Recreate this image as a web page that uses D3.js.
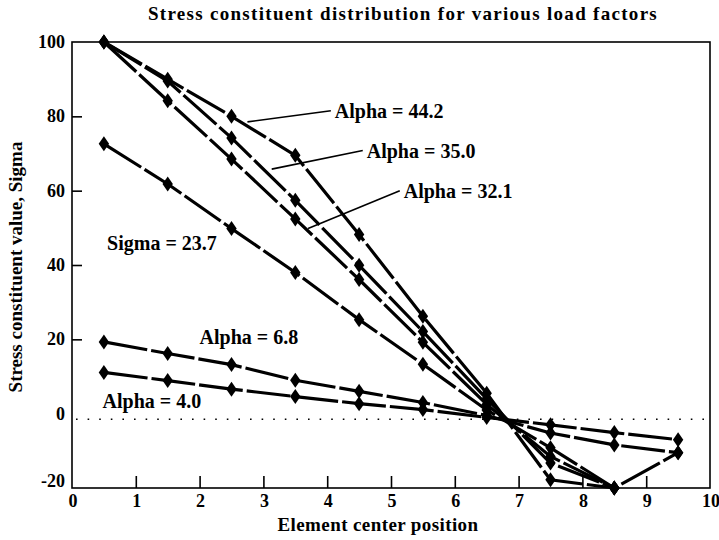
<!DOCTYPE html>
<html>
<head>
<meta charset="utf-8">
<script src="https://cdn.jsdelivr.net/npm/d3@7"></script>
<style>
  body { margin: 0; background: #fff; }
  text { font-family: "Liberation Serif", "DejaVu Serif", serif; font-weight: bold; fill: #000; }
</style>
</head>
<body>
<svg width="719" height="540"></svg>
<script>
// element center positions
var positions = [0.5, 1.5, 2.5, 3.5, 4.5, 5.5, 6.5, 7.5, 8.5, 9.5];

// sigma values (null = no point)
var alpha44 = [100, 90, 80, 69.5, 48.2, 26.2, 5.5, -17.8, -20, null];
var alpha35 = [100, 89.5, 74.2, 57.4, 39.9, 22.1, 4, -13.3, -20, null];
var alpha32 = [100, 84.2, 68.5, 52.4, 36.1, 19.2, 2.5, -11.5, -20, null];
var sigma23 = [72.6, 61.8, 49.8, 38.0, 25.3, 13.3, 1, -9.2, -20, -10.5];
var alpha68 = [19.3, 16.2, 13.2, 9.0, 6.0, 3.0, -0.5, -5.2, -8.4, -10.5];
var alpha40 = [11.1, 8.9, 6.6, 4.6, 2.7, 1.1, -1, -3, -5.1, -7];

var seriesList = [alpha44, alpha35, alpha32, sigma23, alpha68, alpha40];

var xTicks = [0, 1, 2, 3, 4, 5, 6, 7, 8, 9, 10];
var yTicks = [-20, 0, 20, 40, 60, 80, 100];

var title = "Stress constituent distribution for various load factors";
var xTitle = "Element center position";
var yTitle = "Stress constituent value, Sigma";
var baseline = -1.5;

// labels: text, anchor point [x, y] in data units, leader start in data units
var labels = [
  { text: "Alpha = 44.2", at: [4.12, 81.5], from: [2.75, 78.5] },
  { text: "Alpha = 35.0", at: [4.62, 70.8], from: [3.13, 65.8] },
  { text: "Alpha = 32.1", at: [5.2, 60], from: [3.7, 49.8] },
  { text: "Sigma = 23.7", at: [0.55, 46], from: null },
  { text: "Alpha = 6.8", at: [2.0, 20.5], from: null },
  { text: "Alpha = 4.0", at: [0.48, 3.3], from: null }
];

var svg = d3.select("svg");
var x = d3.scaleLinear().domain([0, 10]).range([72, 710]);
var y = d3.scaleLinear().domain([-20, 100]).range([488, 42]);

// frame
svg.append("rect")
  .attr("x", x(0)).attr("y", y(100))
  .attr("width", x(10) - x(0)).attr("height", y(-20) - y(100))
  .attr("fill", "none").attr("stroke", "#000").attr("stroke-width", 1.6);

// inner ticks
var yAxis = d3.axisRight(y).tickValues([20, 40, 60, 80]).tickSize(10).tickFormat("");
svg.append("g").attr("transform", "translate(" + x(0) + ",0)").call(yAxis)
  .call(function(g){ g.select(".domain").remove(); })
  .selectAll("line").attr("stroke-width", 1.6);

var xAxis = d3.axisTop(x).tickValues([1, 2, 3, 4, 5, 6, 7, 8, 9]).tickSize(12).tickFormat("");
svg.append("g").attr("transform", "translate(0," + y(-20) + ")").call(xAxis)
  .call(function(g){ g.select(".domain").remove(); })
  .selectAll("line").attr("stroke-width", 1.6);

// tick labels
svg.selectAll(".ylab").data(yTicks).enter().append("text")
  .attr("class", "ylab")
  .attr("x", x(0) - 7)
  .attr("y", function(d){ return d == -20 ? y(d) - 1 : y(d) + 6; })
  .attr("text-anchor", "end")
  .attr("font-size", 18)
  .text(function(d){ return d; });

svg.selectAll(".xlab").data(xTicks).enter().append("text")
  .attr("class", "xlab")
  .attr("x", function(d){ return x(d) + 1; })
  .attr("y", y(-20) + 19)
  .attr("text-anchor", "middle")
  .attr("font-size", 18)
  .text(function(d){ return d; });

// titles
svg.append("text").attr("x", 403).attr("y", 20).attr("text-anchor", "middle")
  .attr("font-size", 19).attr("letter-spacing", 1.3).text(title);
svg.append("text").attr("x", 378).attr("y", 531).attr("text-anchor", "middle")
  .attr("font-size", 19).attr("letter-spacing", 0.4).text(xTitle);
svg.append("text").attr("transform", "translate(22,267) rotate(-90)")
  .attr("text-anchor", "middle").attr("font-size", 19).text(yTitle);

// dotted zero line
svg.append("line")
  .attr("x1", x(0) + 4).attr("x2", x(10))
  .attr("y1", y(baseline)).attr("y2", y(baseline))
  .attr("stroke", "#000").attr("stroke-width", 1.6)
  .attr("stroke-dasharray", "1.6,10");

// series lines
var line = d3.line()
  .defined(function(d){ return d != null; })
  .x(function(d, i){ return x(positions[i]); })
  .y(function(d){ return y(d); });

svg.selectAll(".series").data(seriesList).enter().append("path")
  .attr("class", "series")
  .attr("d", line)
  .attr("fill", "none")
  .attr("stroke", "#000")
  .attr("stroke-width", 3.2)
  .attr("stroke-dasharray", "44,4");

var diamond = d3.symbol().type(d3.symbolDiamond).size(65);
seriesList.forEach(function(s){
  svg.append("g").selectAll("path")
    .data(s.map(function(v, i){ return { v: v, p: positions[i] }; })
      .filter(function(d){ return d.v != null; }))
    .enter().append("path")
    .attr("d", diamond)
    .attr("transform", function(d){ return "translate(" + x(d.p) + "," + y(d.v) + ") scale(1.2,1)"; })
    .attr("fill", "#000");
});

// annotations
labels.forEach(function(l){
  if (l.from) {
    svg.append("line")
      .attr("x1", x(l.from[0])).attr("y1", y(l.from[1]))
      .attr("x2", x(l.at[0]) - 4).attr("y2", y(l.at[1]))
      .attr("stroke", "#000").attr("stroke-width", 1.6);
  }
  svg.append("text")
    .attr("x", x(l.at[0])).attr("y", y(l.at[1]) + 7)
    .attr("font-size", 20)
    .text(l.text);
});
</script>
</body>
</html>
